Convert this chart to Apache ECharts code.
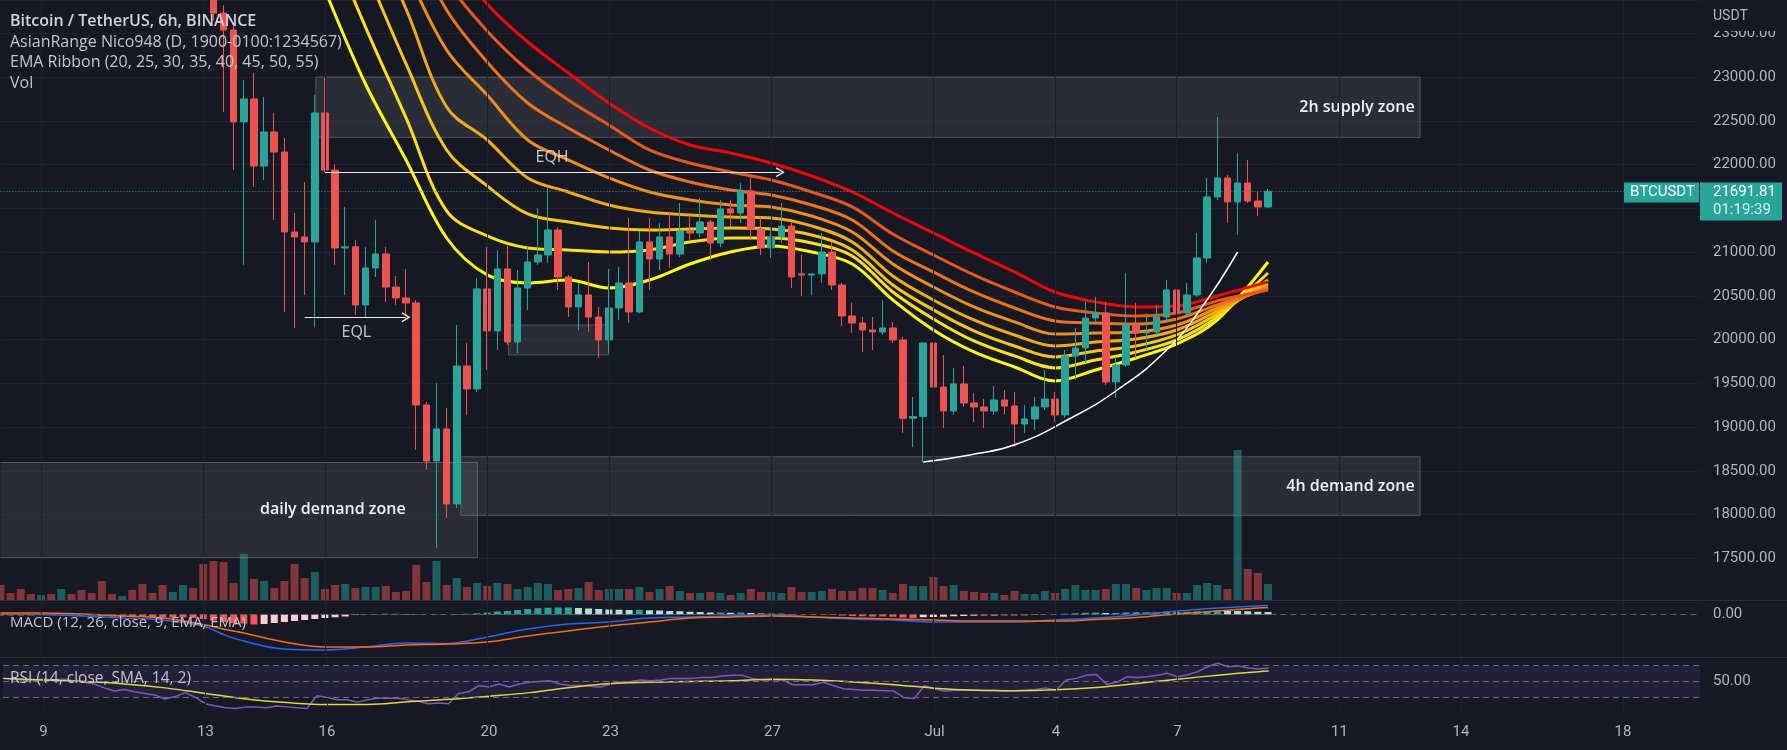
<!DOCTYPE html>
<html><head><meta charset="utf-8">
<script src="https://cdn.jsdelivr.net/npm/echarts@6/dist/echarts.min.js"></script>
<style>html,body{margin:0;padding:0;background:#151924;}#c{width:1787px;height:750px;}</style>
</head><body><div id="c"></div>
<script>
// ---- DATA (6h candles, index 0 = Jun 8 2022 00:00) ----
const opens = [31360,30900,30400,30150,30100,30450,30200,30500,30100,30000,
29800,29100,29050,29300,28800,28300,28100,27300,27600,27700,
26600,25100,23731,23537,22487,22749,21983,22372,22143,21229,
21172,21115,22589,21937,21046,21060,20395,20818,20977,20600,
20475,20418,19252,18612,18978,18121,19698,19435,20578,20098,
20806,19972,20589,20886,20966,21252,20715,20372,20509,20257,
19995,20360,20646,20315,21115,20920,21172,20977,21240,21217,
21343,21103,21492,21446,21698,21263,21046,21172,21297,20750,
20737,20750,21000,20623,20269,20189,20109,20086,20132,19995,
19100,19120,19960,19457,19183,19492,19275,19229,19183,19309,
19240,19035,19092,19229,19320,19138,19812,19903,20246,20303,
19515,19709,20166,20075,20086,20257,20566,20303,20509,20932,
21629,21846,21572,21789,21583,21515];
const highs = [31450,31000,30600,30400,30600,30500,30650,30550,30300,30150,
29900,29300,29400,29450,28900,28500,28200,27800,27900,27800,
26900,25300,23820,23600,22966,23046,22770,22590,22303,21446,
21800,22794,22988,22000,21515,21137,21057,21366,21057,20726,
20806,20450,19286,19503,19217,20166,19960,20700,21057,21023,
21069,20795,21057,21503,21732,21286,20737,20646,20886,20372,
20806,20829,21389,21240,21389,21332,21458,21560,21423,21617,
21366,21595,21595,21789,21880,21400,21286,21560,21343,20966,
20750,21217,21115,20646,20418,20257,20257,20452,20200,20030,
19343,19972,20932,19823,19675,19700,19389,19320,19469,19423,
19400,19252,19343,19652,19400,19880,20132,20429,20486,20429,
19800,20760,20418,20303,20395,20680,20600,20646,21217,21846,
22543,21880,22132,22052,21686,21720];
const lows = [30700,30300,30050,30000,30000,30100,30150,30050,29900,29700,
28900,28900,28850,28700,28100,28000,27200,27100,27300,26500,
24800,23650,22600,21937,20852,21743,21823,21366,20315,20132,
20509,20137,21915,20852,20509,20280,20257,20714,20429,20395,
20280,18740,18509,17618,17961,18075,19138,19400,19652,19880,
19940,19846,20337,20852,20875,20566,20257,20109,20086,19789,
19846,20224,20189,20300,20566,20795,20818,20943,21137,21172,
20909,21057,21286,21332,21137,20966,20932,21103,20589,20498,
20509,20646,20566,20155,20075,19858,19880,20052,19960,18932,
18772,18601,19309,18989,19138,19229,19058,18989,19138,19140,
18772,18932,18966,19195,19058,19103,19538,19732,20166,19480,
19332,19686,19789,19880,20052,20200,20257,20280,20486,20875,
21595,21332,21195,21560,21412,21503];
const closes = [30900,30400,30150,30100,30450,30200,30500,30100,30000,29800,
29100,29050,29300,28800,28300,28100,27300,27600,27700,26600,
25100,23731,23537,22487,22749,21983,22372,22143,21229,21172,
21115,22589,21937,21046,21060,20395,20818,20977,20600,20475,
20418,19252,18612,18978,18121,19698,19435,20578,20098,20806,
19972,20589,20886,20966,21252,20715,20372,20509,20257,19995,
20360,20646,20315,21115,20920,21172,20977,21240,21217,21343,
21103,21492,21446,21698,21263,21046,21172,21297,20715,20737,
20750,21000,20623,20269,20189,20109,20086,20132,19995,19100,
19120,19960,19457,19183,19492,19275,19229,19183,19309,19240,
19035,19092,19229,19320,19138,19812,19903,20246,20303,19515,
19709,20166,20075,20086,20257,20566,20303,20509,20932,21629,
21846,21572,21789,21583,21515,21691.81];
const volumes = [15000,7000,11000,6000,5000,6000,11000,6000,10000,7000,
19000,6000,4000,10000,16000,7000,15000,8000,15000,12000,
36000,39000,38000,17000,46000,21000,19000,12000,19000,36000,
22000,28000,11000,15000,16000,12000,13000,13000,14000,8000,
9000,35000,18000,39000,15000,22000,13000,17000,14000,17000,
16000,11000,13000,17000,16000,10000,11000,12000,18000,10000,
11000,11000,11000,13000,8000,11000,14000,9000,7000,7000,
8000,7000,5000,7000,11000,8000,8000,7000,13000,8000,
8000,9000,11000,9000,9000,12000,12000,10000,7000,16000,
14000,14000,23000,14000,15000,9000,8000,7000,7000,5000,
9000,6000,6000,9000,7000,11000,15000,10000,10000,11000,
16000,16000,12000,10000,12000,12000,7000,7000,15000,17000,
15000,11000,150000,31000,27000,16000];

// EMA ribbon, read at these candle indices
const emaK = [24,28,32,36,40,44,48,52,56,60,64,68,72,76,80,84,88,92,96,100,104,108,112,116,120,125];
const ema20 = [25937,25137,23994,22920,22052,21160,20738,20646,20680,20589,20680,20863,21000,21069,21000,20863,20452,20109,19858,19686,19526,19652,19789,19949,20223,20886];
const ema25 = [26622,25823,24680,23571,22532,21469,21183,21046,21023,21000,21023,21115,21160,21160,21103,20955,20543,20235,19983,19812,19675,19766,19858,19995,20258,20760];
const ema30 = [27194,26451,25251,24223,23149,22166,21755,21435,21343,21275,21252,21263,21275,21263,21195,21023,20623,20338,20098,19926,19801,19869,19926,20052,20292,20680];
const ema35 = [27651,26908,25708,24794,23777,22657,22280,21846,21686,21537,21457,21423,21400,21389,21298,21115,20726,20452,20223,20052,19926,19972,20006,20109,20326,20635];
const ema40 = [27994,27308,26108,25228,24223,23309,22794,22280,22052,21846,21686,21595,21537,21515,21412,21229,20863,20600,20372,20201,20063,20075,20086,20166,20360,20600];
const ema45 = [28337,27651,26451,25594,24680,23766,23172,22703,22417,22166,21937,21800,21709,21652,21537,21366,21012,20772,20543,20360,20212,20189,20178,20235,20395,20577];
const ema50 = [28565,27937,26737,25914,25023,24109,23526,23080,22737,22452,22166,22017,21915,21823,21686,21515,21206,20966,20738,20543,20372,20303,20269,20303,20441,20566];
const ema55 = [28794,28165,26988,26165,25343,24451,23834,23400,23046,22703,22417,22223,22132,22017,21869,21686,21446,21218,20989,20772,20543,20429,20372,20383,20498,20658];

// MACD (12,26,9)
const macdK = [0,4,8,12,16,20,22,24,28,32,36,40,44,48,52,56,60,64,68,72,76,80,84,88,92,96,100,104,108,112,116,120,124,125];
const macdLine = [10,0,-30,-70,-110,-230,-400,-530,-690,-710,-650,-570,-580,-450,-290,-190,-150,-70,-50,-30,-10,-50,-90,-110,-150,-150,-150,-110,-70,-10,70,130,170,180];
const signalLine = [30,30,10,-30,-70,-200,-290,-370,-550,-650,-650,-610,-590,-550,-430,-330,-230,-150,-70,-50,-30,-50,-70,-90,-110,-130,-130,-130,-100,-60,10,70,130,140];
const macdHist = [-20,-20,-20,-20,0,0,0,-20,-20,-20,
-40,-40,-40,-40,-50,-60,-60,-60,-60,-70,
-90,-120,-150,-170,-180,-200,-190,-170,-150,-130,
-110,-90,-70,-55,-40,-10,5,10,15,15,
10,5,0,5,0,10,15,25,40,60,
70,90,110,125,135,140,140,130,120,110,
100,95,90,95,85,80,70,65,55,50,
40,40,35,40,30,20,20,20,10,0,
-5,0,-10,-20,-30,-35,-40,-40,-45,-60,
-70,-55,-50,-45,-35,-30,-25,-25,-20,-20,
-20,-15,-10,0,0,15,25,35,40,30,
30,40,45,45,50,55,55,55,60,70,
80,75,70,65,55,50];

// RSI (14) and its SMA(14)
const rsi = [54,53,52,52,53,52,53,51,49,47,42,38,40,37,35,33,28,31,36,30,
22,19,17,16,18,18,17,19,18,17,16,32,30,27,27,24,27,29,29,29,
27,25,22,23,22,35,37,45,43,47,43,47,49,50,51,47,45,45,44,43,
47,49,50,52,51,52,54,54,54,55,55,57,58,58,54,52,52,52,46,46,
46,49,45,41,40,39,39,38.5,38,29.5,28.7,44.7,41,38,39,39,39,39,39,38,
38.5,39,40,42,39,52,54,58,59,46.4,49,56,55,56,58,60.4,56,58.5,62.5,69,
73,68.7,70,67,65.8,67];
const rsiMaK = [0,4,8,12,16,20,24,28,32,36,40,44,48,52,56,60,64,68,72,76,80,84,88,92,96,100,104,108,112,116,120,124,125];
const rsiMa = [54,52,50,47,42,35,28,23.5,21,21,24.5,27.5,31.5,36,42.5,47.5,49.2,50,51,53,52,49.5,46,41.5,39,38.4,39.5,42.5,47.5,53,58,62.5,63.3];

// x-axis tick labels (day of month; 31 = Jul 1)
const tickDays = [9,13,16,20,23,27,31,34,37,41,44,48];
const tickLabels = ['9','13','16','20','23','27','Jul','4','7','11','14','18'];

// drawings
const supplyZone = {k0:31.1, k1:140, lo:22310, hi:23000, text:'2h supply zone'};
const dailyZone = {k0:0, k1:47.06, lo:17510, hi:18600, text:'daily demand zone'};
const h4Zone = {k0:45.4, k1:140, lo:17990, hi:18660, text:'4h demand zone'};
const smallBox = {k0:50.1, k1:60, lo:19823, hi:20166};
const eqh = {k0:32, k1:76.9, price:21911, labelK:54.4, labelP:22086};
const eql = {k0:30, k1:40, price:20254, labelK:35.1, labelP:20086};
const curveK = [91.0,95.6,100.1,105.2,110.1,115.0,118.3,122.0];
const curveP = [18600,18680,18800,19080,19420,19880,20340,21000];
const lastPrice = 21691.81;

// ---- CHART ----
const BG='#151924', GRIDC='#1e222d', AXC='#b2b5be', UP='#26a69a', DN='#ef5350';
const ZB = 'rgba(140,143,154,0.45)';
const XMAX = 167.6, GL = 0.44, GR = 87;
const tickK = tickDays.map(d => (d-8)*4);
const labelMap = {}; tickK.forEach((k,i)=>labelMap[k]=tickLabels[i]);
const vlines = tickK.map(k=>({xAxis:k}));
const vMark = {silent:true, symbol:'none', label:{show:false}, lineStyle:{color:GRIDC,width:1,type:'solid'}, data:vlines, animation:false};
const chev = 'path://M5,0 L10,8 L8.7,8.8 L5,2.6 L1.3,8.8 L0,8 Z';

const chart = echarts.init(document.getElementById('c'), null, {renderer:'canvas'});
const emaColors = ['#ffff00','#fbe20b','#f8c60f','#f5aa12','#f38e15','#f07218','#ee551b','#ff0000'];
const emaSets = [ema20,ema25,ema30,ema35,ema40,ema45,ema50,ema55];

function xAx(i, show){
  return {type:'value', gridIndex:i, min:0, max:XMAX, show:!!show, interval:4,
    axisLine:{show:false}, axisTick:{show:false}, splitLine:{show:false},
    axisLabel:{show:!!show, color:AXC, fontSize:15, fontFamily:'Roboto', margin:11,
      formatter:v=> labelMap[v]!==undefined ? labelMap[v] : ''}};
}

const series = [];
series.push({type:'line', xAxisIndex:0, yAxisIndex:0, data:[], markLine:vMark, z:0});
series.push({type:'line', xAxisIndex:2, yAxisIndex:2, data:[], markLine:vMark, z:0});
series.push({type:'line', xAxisIndex:3, yAxisIndex:3, data:[], markLine:vMark, z:0});

emaSets.forEach((arr,j)=>{
  series.push({type:'line', xAxisIndex:0, yAxisIndex:0, data:emaK.map((k,i)=>[k,arr[i]]),
    smooth:0.35, symbol:'none', lineStyle:{color:emaColors[j], width:3}, z:1+j*0.01});
});

const zoneStyle = {color:'rgba(120,123,134,0.2)', borderColor:ZB, borderWidth:1};
const zoneLabel = (txt,dist)=>({show:true, position:'insideRight', distance:dist, color:'#f0f3fa', fontSize:16, fontWeight:600, fontFamily:'Open Sans', formatter:txt});
const seg = (k0,p0,k1,p1)=>[{coord:[k0,p0], symbol:'none'},{coord:[k1,p1], symbol:'none'}];
series.push({type:'line', xAxisIndex:0, yAxisIndex:0, data:[], z:2,
  markArea:{silent:true, itemStyle:zoneStyle, data:[
    [{coord:[supplyZone.k0,supplyZone.hi], label:zoneLabel(supplyZone.text,6)},{coord:[supplyZone.k1,supplyZone.lo]}],
    [{coord:[dailyZone.k0,dailyZone.hi], label:zoneLabel(dailyZone.text,72), itemStyle:{borderWidth:0}},{coord:[dailyZone.k1,dailyZone.lo]}],
    [{coord:[h4Zone.k0,h4Zone.hi], label:zoneLabel(h4Zone.text,6)},{coord:[h4Zone.k1,h4Zone.lo]}],
    [{coord:[smallBox.k0,smallBox.hi], label:{show:false}},{coord:[smallBox.k1,smallBox.lo]}]
  ]},
  markLine:{silent:true, label:{show:false}, lineStyle:{color:ZB, width:1, type:'solid'}, symbol:'none',
    data:[
      seg(dailyZone.k0,dailyZone.hi,dailyZone.k1,dailyZone.hi),
      seg(dailyZone.k0,dailyZone.lo,dailyZone.k1,dailyZone.lo),
      seg(dailyZone.k1,dailyZone.hi,dailyZone.k1,dailyZone.lo)
    ]}
});
series.push({type:'line', xAxisIndex:0, yAxisIndex:0, data:[], z:2.5,
  markLine:{silent:true, label:{show:false}, lineStyle:{color:'#e8eaf0', width:1.2, type:'solid'}, symbolSize:[10,9],
    data:[
      [{coord:[eqh.k0,eqh.price], symbol:'none'},{coord:[eqh.k1,eqh.price], symbol:chev}],
      [{coord:[eql.k0,eql.price], symbol:'none'},{coord:[eql.k1,eql.price], symbol:chev}]
    ]}
});

series.push({type:'candlestick', xAxisIndex:0, yAxisIndex:0, z:3, barWidth:7,
  encode:{x:0, y:[1,2,3,4]},
  data: opens.map((o,i)=>[i,o,closes[i],lows[i],highs[i]]),
  itemStyle:{color:UP, color0:DN, borderColor:UP, borderColor0:DN, borderWidth:1},
  markLine:{silent:true, symbol:'none', label:{show:false}, lineStyle:{color:UP, width:1, type:[1,2]}, data:[{yAxis:lastPrice}]}
});

series.push({type:'line', xAxisIndex:0, yAxisIndex:0, z:4, smooth:0.5, symbol:'none',
  data: curveK.map((k,i)=>[k,curveP[i]]), lineStyle:{color:'#ffffff', width:1.5}});

series.push({type:'scatter', xAxisIndex:0, yAxisIndex:0, z:5, symbolSize:0,
  data:[{value:[eqh.labelK,eqh.labelP], name:'EQH'},{value:[eql.labelK,eql.labelP], name:'EQL'}],
  label:{show:true, position:'inside', formatter:p=>p.name, color:'#f0f3fa', fontSize:16, fontFamily:'Open Sans'}});

series.push({type:'bar', xAxisIndex:1, yAxisIndex:1, barWidth:8, z:1,
  data: volumes.map((v,i)=>({value:[i,v], itemStyle:{color: closes[i]>=opens[i] ? 'rgba(38,166,154,0.5)' : 'rgba(239,83,80,0.5)'}}))});

// MACD
series.push({type:'bar', xAxisIndex:2, yAxisIndex:2, barWidth:7, z:1,
  data: macdHist.map((v,i)=>{
    const prev = i>0 ? macdHist[i-1] : v;
    let c;
    if (v>=0) c = v>=prev ? '#26a69a' : '#b2dfdb'; else c = v<=prev ? '#ff5252' : '#ffcdd2';
    return {value:[i,v], itemStyle:{color:c}};
  }),
  markLine:{silent:true, symbol:'none', label:{show:false}, lineStyle:{color:'#5d606b', width:1, type:[6,4]}, data:[{yAxis:0}]}
});
series.push({type:'line', xAxisIndex:2, yAxisIndex:2, z:2, smooth:0.4, symbol:'none', data:macdK.map((k,i)=>[k,macdLine[i]]), lineStyle:{color:'#2962ff', width:1.5}});
series.push({type:'line', xAxisIndex:2, yAxisIndex:2, z:2, smooth:0.4, symbol:'none', data:macdK.map((k,i)=>[k,signalLine[i]]), lineStyle:{color:'#ff6d00', width:1.5}});

// RSI
series.push({type:'line', xAxisIndex:3, yAxisIndex:3, z:1, data:[],
  markArea:{silent:true, itemStyle:{color:'rgba(126,87,194,0.12)'}, data:[[{coord:[0,70]},{coord:[XMAX,30]}]]},
  markLine:{silent:true, symbol:'none', label:{show:false}, lineStyle:{color:'#6a6d78', width:1, type:[6,4]}, data:[{yAxis:70},{yAxis:50},{yAxis:30}]}
});
series.push({type:'line', xAxisIndex:3, yAxisIndex:3, z:2, symbol:'none', data:rsi.map((v,i)=>[i,v]), lineStyle:{color:'#7e57c2', width:1.5}});
series.push({type:'line', xAxisIndex:3, yAxisIndex:3, z:3, smooth:0.4, symbol:'none', data:rsiMaK.map((k,i)=>[k,rsiMa[i]]), lineStyle:{color:'#e6d63a', width:1.5}});

const option = {
  backgroundColor: BG,
  animation:false,
  grid:[
    {left:GL, right:GR, top:0, height:602},
    {left:GL, right:GR, top:300, height:300},
    {left:GL, right:GR, top:600, height:57},
    {left:GL, right:GR, top:657, height:57}
  ],
  xAxis:[xAx(0), xAx(1), xAx(2), xAx(3,true)],
  yAxis:[
    {type:'value', gridIndex:0, position:'right', min:17000, max:23880, interval:500,
      axisLine:{show:false}, axisTick:{show:false},
      splitLine:{show:true, lineStyle:{color:GRIDC, width:1}},
      axisLabel:{color:AXC, fontSize:15, fontFamily:'Roboto', margin:13, showMaxLabel:false, showMinLabel:false, formatter:v=>v.toFixed(2)}},
    {type:'value', gridIndex:1, min:0, max:300000, show:false},
    {type:'value', gridIndex:2, position:'right', min:-850, max:290, interval:10,
      axisLine:{show:false}, axisTick:{show:false}, splitLine:{show:false},
      axisLabel:{color:AXC, fontSize:15, fontFamily:'Roboto', margin:13, formatter:v=> v===0 ? '0.00' : ''}},
    {type:'value', gridIndex:3, position:'right', min:9, max:81, interval:1,
      axisLine:{show:false}, axisTick:{show:false}, splitLine:{show:false},
      axisLabel:{color:AXC, fontSize:15, fontFamily:'Roboto', margin:13, formatter:v=> v===50 ? '50.00' : ''}}
  ],
  series: series
};
chart.setOption(option);

// overlay texts / price tags
const yP = chart.convertToPixel({gridIndex:0}, [0, lastPrice])[1];
const txt = (x,y,t,font,fill)=>({type:'text', x:x, y:y, z:100, silent:true, style:{text:t, font:font, fill:fill, verticalAlign:'middle', align:'left'}});
chart.setOption({graphic:[
  {type:'line', z:100, silent:true, shape:{x1:0,y1:600.5,x2:1787,y2:600.5}, style:{stroke:'#2a2e39', lineWidth:1}},
  {type:'line', z:100, silent:true, shape:{x1:0,y1:657.5,x2:1787,y2:657.5}, style:{stroke:'#2a2e39', lineWidth:1}},
  {type:'rect', z:100, silent:true, shape:{x:1701,y:0,width:86,height:31}, style:{fill:BG}},
  txt(1713,16,'USDT','14px Roboto',AXC),
  txt(10,21,'Bitcoin / TetherUS, 6h, BINANCE','600 16px "Open Sans"','#d1d4dc'),
  txt(10,42,'AsianRange Nico948 (D, 1900-0100:1234567)','16px "Open Sans"','#c3c6ce'),
  txt(10,62,'EMA Ribbon (20, 25, 30, 35, 40, 45, 50, 55)','16px "Open Sans"','#c3c6ce'),
  txt(10,83,'Vol','16px "Open Sans"','#c3c6ce'),
  txt(10,623,'MACD (12, 26, close, 9, EMA, EMA)','15px "Open Sans"','#c3c6ce'),
  txt(10,679,'RSI (14, close, SMA, 14, 2)','15.5px "Open Sans"','#c3c6ce'),
  {type:'rect', z:100, silent:true, shape:{x:1624,y:yP-9,width:75,height:20}, style:{fill:UP}},
  txt(1630,yP+1,'BTCUSDT','15px Roboto','#ffffff'),
  {type:'rect', z:100, silent:true, shape:{x:1700,y:yP-9,width:82,height:38}, style:{fill:UP}},
  txt(1713,yP+1,lastPrice.toFixed(2),'15px Roboto','#ffffff'),
  txt(1713,yP+19,'01:19:39','15px Roboto','#e0f2ef')
]});
</script>
</body></html>
